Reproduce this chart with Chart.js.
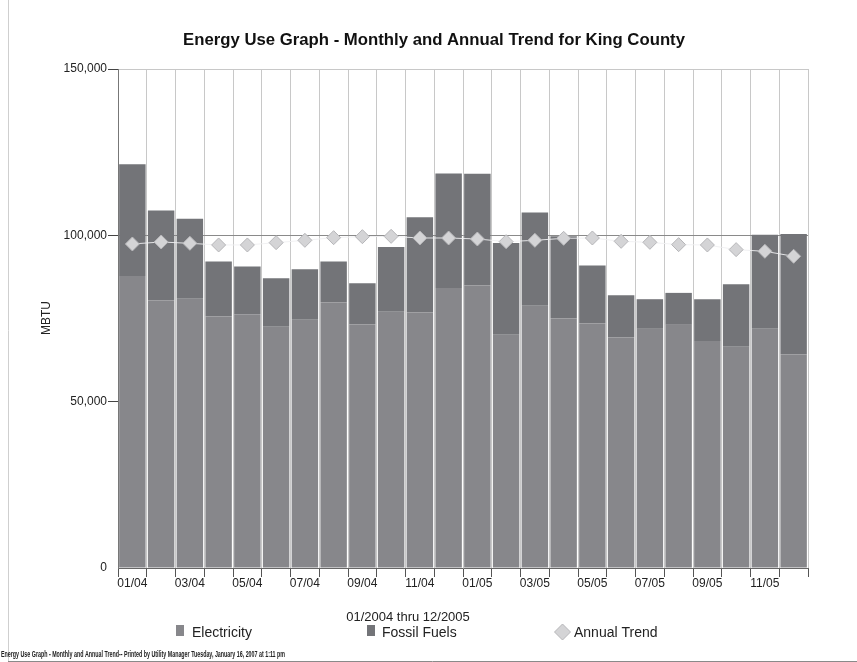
<!DOCTYPE html>
<html>
<head>
<meta charset="utf-8">
<title>Energy Use Graph - Monthly and Annual Trend for King County</title>
<script src="https://cdn.jsdelivr.net/npm/chart.js@4/dist/chart.umd.min.js"></script>
<style>
  html, body { margin: 0; padding: 0; background: #fff; }
  #wrap { width: 857px; height: 662px; position: relative; }
</style>
</head>
<body>
<div id="wrap"><canvas id="energy" width="857" height="662"></canvas></div>
<script>
// Monthly billing periods, 01/2004 through 12/2005
const months = ["01/04","02/04","03/04","04/04","05/04","06/04","07/04","08/04","09/04","10/04","11/04","12/04",
                "01/05","02/05","03/05","04/05","05/05","06/05","07/05","08/05","09/05","10/05","11/05","12/05"];

// MBTU per month, by fuel
const electricity = [87800, 80400, 80900, 75600, 76300, 72500, 74600, 79800, 73200, 77000, 76800, 84200,
                     84900, 70100, 78800, 75000, 73500, 69300, 71900, 73100, 68200, 66500, 71900, 64200];
const fossilFuels = [33600, 27100, 24100, 16500, 14300, 14600, 15200, 12300, 12400, 19500, 28600, 34400,
                     33600, 27600, 28100, 24700, 17400, 12700, 8900, 9600, 12600, 18800, 28300, 36200];

// Rolling 12-month average (MBTU)
const annualTrend = [97400, 98000, 97600, 97100, 97100, 97800, 98500, 99300, 99600, 99700, 99200, 99200,
                     98900, 98100, 98500, 99100, 99200, 98200, 97900, 97200, 97100, 95700, 95200, 93700];

const yTicks = [0, 50000, 100000, 150000];

const FONT = "'Liberation Sans', Arial, Helvetica, sans-serif";
const ELEC_COLOR = '#87878b';
const FOSSIL_COLOR = '#737478';
const TREND_FILL = '#d4d4d6';
const TREND_EDGE = '#b6b6b9';

// Page furniture: title, axis caption, period line, legend, footer and frame
const pageText = {
  id: 'pageText',
  beforeDraw(chart) {
    const ctx = chart.ctx;
    ctx.save();
    ctx.fillStyle = '#ffffff';
    ctx.fillRect(0, 0, chart.width, chart.height);
    ctx.restore();
  },
  afterDraw(chart) {
    const ctx = chart.ctx;
    ctx.save();

    // frame
    ctx.strokeStyle = '#cfcfcf';
    ctx.lineWidth = 1;
    ctx.beginPath();
    ctx.moveTo(8.5, 0);
    ctx.lineTo(8.5, 661);
    ctx.stroke();
    ctx.strokeStyle = '#8a8a8a';
    ctx.beginPath();
    ctx.moveTo(8, 661.5);
    ctx.lineTo(857, 661.5);
    ctx.stroke();

    // title
    ctx.fillStyle = '#111';
    ctx.textAlign = 'center';
    ctx.textBaseline = 'middle';
    ctx.font = 'bold 17px ' + FONT;
    ctx.fillText('Energy Use Graph - Monthly and Annual Trend for King County', 434, 40, 502);

    // y caption
    ctx.save();
    ctx.translate(47, 318);
    ctx.rotate(-Math.PI / 2);
    ctx.font = '12px ' + FONT;
    ctx.fillStyle = '#222';
    ctx.fillText('MBTU', 0, 0);
    ctx.restore();

    // period
    ctx.font = '13px ' + FONT;
    ctx.fillStyle = '#222';
    ctx.fillText('01/2004 thru 12/2005', 408, 617);

    // legend
    const ds = chart.data.datasets;
    ctx.textAlign = 'left';
    ctx.font = '14px ' + FONT;
    ctx.fillStyle = ds[0].backgroundColor;
    ctx.fillRect(176, 625, 8, 11);
    ctx.fillStyle = '#222';
    ctx.fillText(ds[0].label, 192, 633);

    ctx.fillStyle = ds[1].backgroundColor;
    ctx.fillRect(367, 625, 8, 11);
    ctx.fillStyle = '#222';
    ctx.fillText(ds[1].label, 382, 633);

    ctx.beginPath();
    ctx.moveTo(562.5, 624);
    ctx.lineTo(570.5, 632);
    ctx.lineTo(562.5, 640);
    ctx.lineTo(554.5, 632);
    ctx.closePath();
    ctx.fillStyle = ds[2].pointBackgroundColor;
    ctx.fill();
    ctx.strokeStyle = ds[2].pointBorderColor;
    ctx.stroke();
    ctx.fillStyle = '#222';
    ctx.fillText(ds[2].label, 574, 633);

    // footer
    ctx.font = 'bold 9px ' + FONT;
    ctx.fillStyle = '#222';
    ctx.fillText('Energy Use Graph - Monthly and Annual Trend-- Printed by Utility Manager Tuesday, January 16, 2007 at 1:11 pm', 1, 655, 284);

    ctx.restore();
  }
};

new Chart(document.getElementById('energy'), {
  type: 'bar',
  data: {
    labels: months,
    datasets: [
      {
        label: 'Electricity',
        data: electricity,
        backgroundColor: ELEC_COLOR,
        stack: 'use',
        order: 2,
        barPercentage: 0.92,
        categoryPercentage: 1.0
      },
      {
        label: 'Fossil Fuels',
        data: fossilFuels,
        backgroundColor: FOSSIL_COLOR,
        stack: 'use',
        order: 2,
        barPercentage: 0.92,
        categoryPercentage: 1.0
      },
      {
        type: 'line',
        label: 'Annual Trend',
        data: annualTrend,
        order: 1,
        borderColor: 'rgba(240,240,242,0.9)',
        borderWidth: 1,
        pointStyle: 'rectRot',
        pointRadius: 7,
        pointBackgroundColor: TREND_FILL,
        pointBorderColor: TREND_EDGE,
        pointBorderWidth: 1,
        tension: 0,
        fill: false
      }
    ]
  },
  options: {
    responsive: false,
    animation: false,
    layout: { padding: { top: 69, right: 49, bottom: 64, left: 0 } },
    plugins: {
      legend: { display: false },
      title: { display: false },
      tooltip: { enabled: false }
    },
    scales: {
      x: {
        stacked: true,
        offset: true,
        afterFit(scale) { scale.height = 30; },
        grid: {
          offset: true,
          color: '#c8c8c8',
          tickColor: '#555',
          tickLength: 9,
          lineWidth: 1
        },
        border: { display: true, color: '#666' },
        ticks: {
          autoSkip: false,
          maxRotation: 0,
          minRotation: 0,
          padding: -1,
          color: '#222',
          font: { family: FONT, size: 12 },
          callback(value, index) { return index % 2 === 0 ? months[index] : ''; }
        }
      },
      y: {
        stacked: true,
        min: yTicks[0],
        max: yTicks[yTicks.length - 1],
        afterFit(scale) { scale.width = 118; },
        afterBuildTicks(scale) { scale.ticks = yTicks.map(v => ({ value: v })); },
        grid: {
          color(ctx) {
            const v = ctx.tick && ctx.tick.value;
            if (v === 150000) return '#c8c8c8';
            if (v === 100000) return '#8a8a8a';
            return 'rgba(0,0,0,0)';
          },
          tickColor(ctx) {
            return ctx.tick && ctx.tick.value === 0 ? 'rgba(0,0,0,0)' : '#444';
          },
          tickLength: 10,
          lineWidth: 1
        },
        border: { display: true, color: '#777' },
        ticks: {
          padding: 1,
          color: '#222',
          font: { family: FONT, size: 12 },
          callback(value) { return Number(value).toLocaleString('en-US'); }
        }
      }
    }
  },
  plugins: [pageText]
});
</script>
</body>
</html>
